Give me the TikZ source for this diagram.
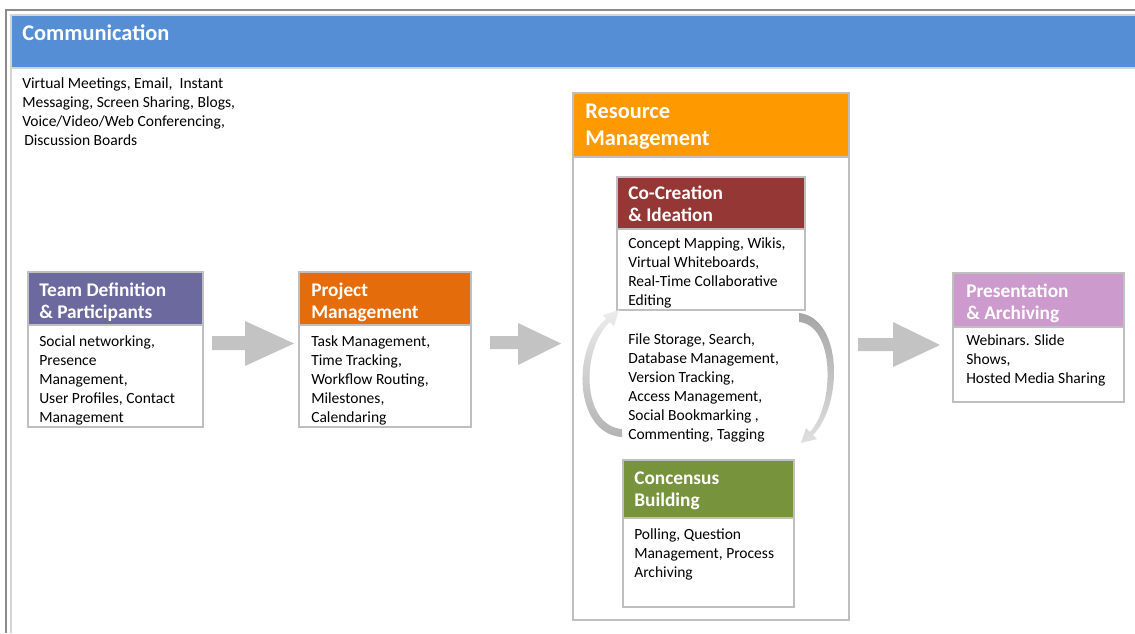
\documentclass[tikz,border=0pt]{standalone}
\usepackage{fontspec}
\setmainfont{Carlito}
\definecolor{commblue}{HTML}{558ED5}
\definecolor{teampurple}{HTML}{6C699E}
\definecolor{projorange}{HTML}{E46C0A}
\definecolor{resorange}{HTML}{FF9900}
\definecolor{cored}{HTML}{953735}
\definecolor{consgreen}{HTML}{77933C}
\definecolor{prespink}{HTML}{CC9ACC}
\definecolor{boxgray}{HTML}{BFBFBF}
\definecolor{framedark}{HTML}{8C8C8C}
\definecolor{framelight}{HTML}{D4D4D4}
\definecolor{arrowgray}{HTML}{C3C3C3}
\newcommand{\tb}[1]{\begin{tabular}[t]{@{}l@{}}#1\end{tabular}}
\tikzset{
  bodytxt/.style={anchor=base west, inner sep=0pt, text=black,
    font=\fontsize{11.65}{14.25}\selectfont},
  hdtxt/.style={anchor=base west, inner sep=0pt, text=white,
    font=\bfseries\fontsize{14.5}{16.5}\selectfont},
  bighdtxt/.style={anchor=base west, inner sep=0pt, text=white,
    font=\bfseries\fontsize{16.8}{20.25}\selectfont},
  boxline/.style={draw=boxgray, line width=0.9pt},
  blockarrow/.style={fill=arrowgray, draw=none},
}
\begin{document}
\begin{tikzpicture}[x=0.75pt,y=-0.75pt]
\useasboundingbox (0,0) rectangle (1135,633);
% outer frame
\draw[framedark, line width=1.5pt] (6,633) -- (6,10) -- (1135,10);
\draw[framelight, line width=1pt] (11,633) -- (11,15);
% communication header
\filldraw[fill=commblue, draw=framelight, line width=1pt] (11,15) rectangle (1136,68);
\node[bighdtxt] (commT) at (22,40) {Communication};
\node[bodytxt] (commB) at (22,88) {\tb{Virtual Meetings, Email,\ \ Instant\\Messaging, Screen Sharing, Blogs,\\Voice/Video/Web Conferencing,\\\hspace{1.5pt}Discussion Boards}};

% team definition
\filldraw[boxline, fill=white] (28,272) rectangle (203,427);
\filldraw[boxline, fill=teampurple] (28,272) rectangle (203,325);
\node[hdtxt] (teamT) at (39,296) {\tb{Team Definition\\\& Participants}};
\node[bodytxt] (teamB) at (39,346) {\tb{Social networking,\\Presence\\Management,\\User Profiles, Contact\\Management}};

% project management
\filldraw[boxline, fill=white] (299,272) rectangle (471,427);
\filldraw[boxline, fill=projorange] (299,272) rectangle (471,325);
\node[hdtxt] (projT) at (311,296) {\tb{Project\\Management}};
\node[bodytxt] (projB) at (311,346) {\tb{Task Management,\\Time Tracking,\\Workflow Routing,\\Milestones,\\Calendaring}};

% resource management
\filldraw[boxline, fill=white] (573,93) rectangle (849,620);
\filldraw[boxline, fill=resorange] (573,93) rectangle (849,157);
\node[bighdtxt] (resT) at (585,118) {\tb{Resource\\Management}};

% co-creation
\filldraw[boxline, fill=white] (617,177) rectangle (805,310);
\filldraw[boxline, fill=cored] (617,177) rectangle (805,229);
\node[hdtxt] (coT) at (628,199) {\tb{Co-Creation\\\& Ideation}};
\node[bodytxt] (coB) at (628,248) {\tb{Concept Mapping, Wikis,\\Virtual Whiteboards,\\Real-Time Collaborative\\Editing}};

% middle text
\node[bodytxt] (midB) at (628,344) {\tb{File Storage, Search,\\Database Management,\\Version Tracking,\\Access Management,\\Social Bookmarking\ ,\\Commenting, Tagging}};

% concensus
\filldraw[boxline, fill=white] (623,460) rectangle (794,607);
\filldraw[boxline, fill=consgreen] (623,460) rectangle (794,518);
\node[hdtxt] (consT) at (634,484) {\tb{Concensus\\Building}};
\node[bodytxt] (consB) at (634,539) {\tb{Polling, Question\\Management, Process\\Archiving}};

% presentation
\filldraw[boxline, fill=white] (953,273) rectangle (1124,402);
\filldraw[boxline, fill=prespink] (953,273) rectangle (1124,327);
\node[hdtxt] (presT) at (966,297) {\tb{Presentation\\\& Archiving}};
\node[bodytxt] (presB) at (966,345) {\tb{Webinars. Slide\\Shows,\\Hosted Media Sharing}};

% block arrows
\fill[blockarrow] (212,336) -- (245,336) -- (245,321) -- (294,343.5) -- (245,366) -- (245,350) -- (212,350) -- cycle;
\fill[blockarrow] (490,336) -- (518,336) -- (518,323) -- (561,343.5) -- (518,365) -- (518,349) -- (490,349) -- cycle;
\fill[blockarrow] (858,338) -- (893,338) -- (893,322) -- (940,345) -- (893,367) -- (893,351) -- (858,351) -- cycle;

% curved arrows
\shade[top color=gray!15, bottom color=gray!60]
  (622,437) .. controls (574,434) and (571,348) .. (606,319)
  -- (603,315) -- (619,310) -- (614,326) -- (610,322)
  .. controls (581,348) and (581,426) .. (622,429) -- cycle;
\shade[top color=gray!70, bottom color=gray!25]
  (799,313) .. controls (843,318) and (843,405) .. (813,435)
  -- (817,439) -- (801,443) -- (806,428) -- (810,432)
  .. controls (835,405) and (835,325) .. (799,322) -- cycle;
\end{tikzpicture}
\end{document}
